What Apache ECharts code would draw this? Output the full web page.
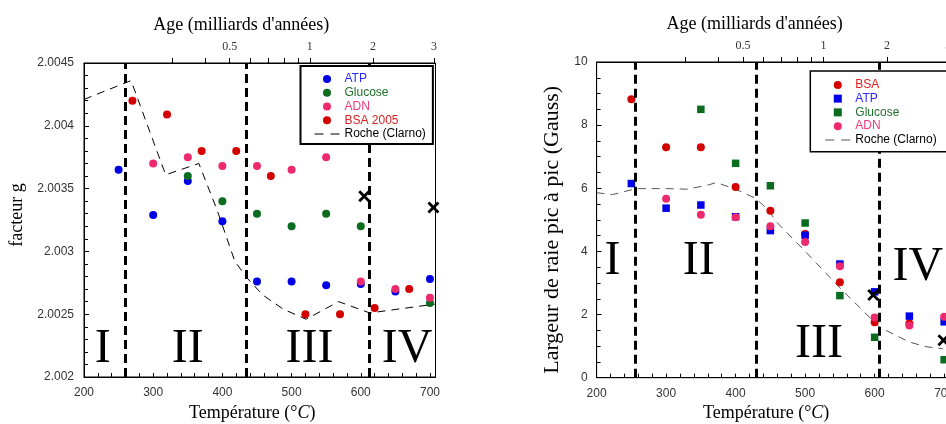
<!DOCTYPE html>
<html><head><meta charset="utf-8">
<script src="https://cdn.jsdelivr.net/npm/echarts@6/dist/echarts.min.js"></script>
<style>
html,body{margin:0;padding:0;background:#fff;overflow:hidden;width:946px;height:424px;}
#c1{position:absolute;left:0;top:0;width:470px;height:424px;}
#c2{position:absolute;left:470px;top:0;width:500px;height:424px;}
</style></head>
<body><div id="c1"></div><div id="c2"></div>
<script>
// ---------- data ----------
const tempLabels = [200, 300, 400, 500, 600, 700];
const ageTickTemps = [328, 375, 410.5, 440, 466, 489, 509.5, 526.3, 617.7, 706];
const ageTickNames = ['0.3', '0.4', '0.5', '0.6', '0.7', '0.8', '0.9', '1', '2', '3'];
const ageShown = ['0.5', '1', '2', '3'];

// left chart : facteur g
const gATP = [[250,2.00365],[300,2.00329],[350,2.00356],[400,2.00324],[450,2.00276],[500,2.00276],[550,2.00273],[600,2.00274],[650,2.00268],[700,2.00278]];
const gGlucose = [[350,2.0036],[400,2.0034],[450,2.0033],[500,2.0032],[550,2.0033],[600,2.0032],[700,2.00259]];
const gADN = [[300,2.0037],[350,2.00375],[400,2.00368],[450,2.00368],[500,2.00365],[550,2.00375],[600,2.00276],[650,2.0027],[700,2.00263]];
const gBSA = [[270,2.0042],[320,2.00409],[370,2.0038],[420,2.0038],[470,2.0036],[520,2.0025],[570,2.0025],[620,2.00255],[670,2.0027]];
const gCross = [[605,2.00344],[705,2.00335]];
const gRoche = [[200,2.00421],[268,2.00436],[318,2.00361],[366,2.0037],[393,2.00332],[418,2.00292],[437,2.00278],[459,2.00265],[488,2.00254],[521,2.00246],[568,2.0026],[613,2.00251],[707,2.00258]];
const gBounds = [259, 435, 612];
const gRegions = [['I',227,2.00222],['II',350,2.00222],['III',526,2.00222],['IV',667,2.00222]];

// right chart : largeur de raie
const wBSA = [[250,8.82],[300,7.3],[350,7.3],[400,6.04],[450,5.29],[500,4.55],[550,3.02],[600,1.76],[650,1.72]];
const wATP = [[250,6.15],[300,5.37],[350,5.47],[400,5.1],[450,4.66],[500,4.51],[550,3.6],[600,2.72],[650,1.95],[700,1.77]];
const wGlucose = [[350,8.5],[400,6.79],[450,6.08],[500,4.9],[550,2.6],[600,1.28],[700,0.57]];
const wADN = [[300,5.67],[350,5.16],[400,5.08],[450,4.8],[500,4.3],[550,3.53],[600,1.91],[650,1.65],[700,1.93]];
const wCross = [[598,2.62],[699,1.19]];
const wRoche = [[200,5.86],[223,5.8],[257,5.99],[300,5.99],[330,5.97],[360,6.1],[372,6.18],[398,5.99],[429,5.68],[448,5.29],[458,4.95],[501,3.98],[549,2.87],[607,1.6],[650,1.13],[674,0.98],[698,0.92]];
const wBounds = [255, 430, 607];
const wRegions = [['I',223,3.70],['II',347,3.70],['III',520,1.05],['IV',662,3.48]];

// ---------- styles ----------
const SANS = '"Liberation Sans", Arial, sans-serif';
const SERIF = '"Liberation Serif", "Times New Roman", serif';
const C = {ATP:'#0000e6', Glucose:'#0b6b1f', ADN:'#ee2a6e', BSA:'#d40000'};
const T = {ATP:'#2a2aff', Glucose:'#1f6f2a', ADN:'#ee3a7a', BSA:'#e02020'};
const CROSS = 'path://M0,2L2,0L6,4L10,0L12,2L8,6L12,10L10,12L6,8L2,12L0,10L4,6Z';
const ICON_SQUARE = 'path://M0,0L10,0L10,10L0,10Z';
const ICON_CIRCLE = 'circle';
const ICON_DASH = 'path://M0,0L9,0L9,1L0,1Z M16,0L25,0L25,1L16,1Z';

const tempTickVals = [];
for (let t = 200; t <= 700; t += 20) tempTickVals.push(t);
const ageLabelTemps = ageTickTemps.filter((t, i) => ageShown.includes(ageTickNames[i]));
const ageName = v => { const i = ageTickTemps.findIndex(t => Math.abs(t - v) < 0.01); return i >= 0 ? ageTickNames[i] : ''; };

function xAxes(bottomPad) {
  return [
    { type:'value', min:200, max:708, position:'bottom',
      axisLine:{show:true, onZero:false, lineStyle:{color:'#000', width:1}},
      axisTick:{show:true, inside:true, length:4, customValues:tempTickVals, lineStyle:{color:'#000'}},
      axisLabel:{customValues:tempLabels, margin:10, color:'#333', fontFamily:SANS, fontSize:12},
      splitLine:{show:false},
      name:'Température (°{i|C})', nameLocation:'middle', nameGap:27,
      nameTextStyle:{fontFamily:SERIF, fontSize:18, color:'#000', padding:[0,bottomPad,0,0],
        rich:{i:{fontFamily:SERIF, fontSize:18, fontStyle:'italic', color:'#000'}}}
    },
    { type:'value', min:200, max:708, position:'top',
      axisLine:{show:true, onZero:false, lineStyle:{color:'#000', width:1}},
      axisTick:{show:true, inside:false, length:5, customValues:ageTickTemps, lineStyle:{color:'#000'}},
      axisLabel:{customValues:ageLabelTemps, formatter:ageName, margin:10, color:'#333', fontFamily:SERIF, fontSize:12},
      splitLine:{show:false},
      name:"Age (milliards d'années)", nameLocation:'middle', nameGap:29,
      nameTextStyle:{fontFamily:SERIF, fontSize:18, color:'#000', padding:[0,37,0,0]}
    }
  ];
}

function buildSeries(list, cross, roche, rocheColor, bounds, regions) {
  const s = [];
  list.forEach(d => s.push({type:'scatter', name:d.name, data:d.data, symbol:d.symbol, symbolSize:d.size,
    itemStyle:{color:d.color, opacity:1}, z:3}));
  s.push({type:'scatter', name:'cross', data:cross, symbol:CROSS, symbolSize:12, itemStyle:{color:'#000', opacity:1}, z:5});
  s.push({type:'line', name:'Roche (Clarno)', data:roche, symbol:'none', showSymbol:false,
    lineStyle:{color:rocheColor, width:1, type:[8,6]}, itemStyle:{color:rocheColor}, z:2,
    markLine:{silent:true, symbol:['none','none'], label:{show:false},
      lineStyle:{color:'#000', width:3, type:[9,5]}, emphasis:{disabled:true},
      data:bounds.map(t => ({xAxis:t}))}});
  s.push({type:'scatter', name:'regions', data:regions.map(r => ({name:r[0], value:[r[1], r[2]]})),
    symbolSize:1, itemStyle:{color:'transparent', opacity:1}, silent:true, z:1,
    label:{show:true, position:'inside', formatter:'{b}', fontFamily:SERIF, fontSize:48, color:'#000',
      textBorderWidth:0, opacity:1}});
  return s;
}

function legendData(items) {
  return items.map(it => ({name:it[0], icon:it[1], textStyle:{color: T[it[0].split(' ')[0]] || '#000'}}));
}

// ---------- left chart ----------
const ch1 = echarts.init(document.getElementById('c1'), null, {renderer:'canvas'});
ch1.setOption({
  animation:false,
  backgroundColor:'#fff',
  grid:{left:84, top:63, width:351.5, height:314, show:true, borderColor:'#000', borderWidth:1, outerBoundsMode:'none'},
  xAxis: xAxes(15),
  yAxis: [{ type:'value', min:2.002, max:2.0045, interval:0.0005,
    axisLine:{show:true, lineStyle:{color:'#000', width:1}},
    axisTick:{show:true, inside:true, length:5, lineStyle:{color:'#000'}},
    minorTick:{show:true, splitNumber:5, length:4, lineStyle:{color:'#000'}},
    axisLabel:{margin:10, color:'#333', fontFamily:SANS, fontSize:12},
    splitLine:{show:false}, minorSplitLine:{show:false},
    name:'facteur g', nameLocation:'middle', nameGap:52,
    nameTextStyle:{fontFamily:SERIF, fontSize:18, color:'#000', padding:[0,0,0,10]}
  }],
  legend:{orient:'vertical', left:300.5, top:66, padding:[6,7,3,14], itemWidth:25, itemHeight:8, itemGap:0,
    borderColor:'#000', borderWidth:2, backgroundColor:'#fff', selectedMode:false, z:10, symbolKeepAspect:true,
    textStyle:{fontFamily:SANS, fontSize:12, lineHeight:13.8},
    data:legendData([['ATP',ICON_CIRCLE],['Glucose',ICON_CIRCLE],['ADN',ICON_CIRCLE],['BSA 2005',ICON_CIRCLE],['Roche (Clarno)',ICON_DASH]])},
  series: buildSeries([
    {name:'ATP', data:gATP, symbol:'circle', size:8, color:C.ATP},
    {name:'Glucose', data:gGlucose, symbol:'circle', size:8, color:C.Glucose},
    {name:'ADN', data:gADN, symbol:'circle', size:8, color:C.ADN},
    {name:'BSA 2005', data:gBSA, symbol:'circle', size:8, color:C.BSA}
  ], gCross, gRoche, '#000', gBounds, gRegions)
});

// ---------- right chart ----------
const ch2 = echarts.init(document.getElementById('c2'), null, {renderer:'canvas'});
ch2.setOption({
  animation:false,
  backgroundColor:'#fff',
  grid:{left:126.6, top:62, width:353.1, height:315.7, show:true, borderColor:'#000', borderWidth:1, outerBoundsMode:'none'},
  xAxis: xAxes(14),
  yAxis: [{ type:'value', min:0, max:10, interval:2,
    axisLine:{show:true, lineStyle:{color:'#000', width:1}},
    axisTick:{show:true, inside:true, length:5, lineStyle:{color:'#000'}},
    minorTick:{show:true, splitNumber:4, length:4, lineStyle:{color:'#000'}},
    axisLabel:{margin:9, color:'#333', fontFamily:SANS, fontSize:12},
    splitLine:{show:false}, minorSplitLine:{show:false},
    name:'Largeur de raie pic à pic (Gauss)', nameLocation:'middle', nameGap:25,
    nameTextStyle:{fontFamily:SERIF, fontSize:22, color:'#000', padding:[0,20,0,0]}
  }],
  legend:{orient:'vertical', left:340.3, top:71, padding:[7,25,5,15], itemWidth:25, itemHeight:8, itemGap:0,
    borderColor:'#000', borderWidth:1.5, backgroundColor:'#fff', selectedMode:false, z:10, symbolKeepAspect:true,
    textStyle:{fontFamily:SANS, fontSize:12, lineHeight:13.75},
    data:legendData([['BSA',ICON_CIRCLE],['ATP',ICON_SQUARE],['Glucose',ICON_SQUARE],['ADN',ICON_CIRCLE],['Roche (Clarno)',ICON_DASH]])},
  series: buildSeries([
    {name:'BSA', data:wBSA, symbol:'circle', size:8, color:C.BSA},
    {name:'ATP', data:wATP, symbol:'rect', size:7.5, color:C.ATP},
    {name:'Glucose', data:wGlucose, symbol:'rect', size:7.5, color:C.Glucose},
    {name:'ADN', data:wADN, symbol:'circle', size:8, color:C.ADN}
  ], wCross, wRoche, '#555', wBounds, wRegions)
});
</script></body></html>
